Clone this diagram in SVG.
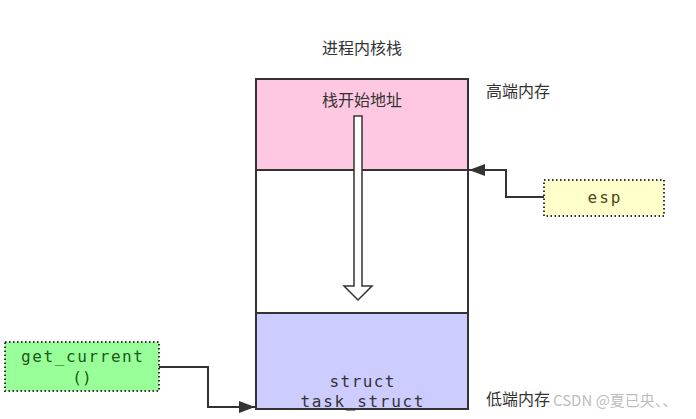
<svg xmlns="http://www.w3.org/2000/svg" width="696" height="419" viewBox="0 0 696 419">
<defs>
<style>
.cjk{font-family:"Noto Sans CJK SC","Noto Sans",sans-serif;font-size:16px;fill:#333}
.mono{font-family:"DejaVu Sans Mono","Liberation Mono",monospace;font-size:16px}
.sec{stroke:#333;stroke-width:2}
.conn{fill:none;stroke:#333;stroke-width:2}
.note{stroke:#333;stroke-width:2;stroke-dasharray:1.5 2.5}
</style>
<marker id="ah2" viewBox="0 0 16 12" refX="16" refY="6" markerWidth="16" markerHeight="12" markerUnits="userSpaceOnUse" orient="auto"><path d="M0,0 L16,6 L0,12 z" fill="#333"/></marker>
</defs>
<rect width="696" height="419" fill="#fff"/>
<text class="cjk" x="362" y="54" text-anchor="middle">进程内核栈</text>
<g id="stack">
<rect class="sec" x="256" y="79" width="212" height="91" fill="#ffc8e2"/>
<rect class="sec" x="256" y="170" width="212" height="143" fill="#fff"/>
<rect class="sec" x="256" y="313" width="212" height="96" fill="#ccccff"/>
<text class="cjk" x="362" y="106" text-anchor="middle">栈开始地址</text>
<text class="mono" x="362" y="387" text-anchor="middle" fill="#333" textLength="65" lengthAdjust="spacing">struct</text>
<text class="mono" x="362" y="407" text-anchor="middle" fill="#333" textLength="123" lengthAdjust="spacing">task_struct</text>
<path d="M354,116 H362 V286 H372 L358,300 L344,286 H354 Z" fill="#fff" stroke="#333" stroke-width="1.5"/>
</g>
<text class="cjk" x="486" y="97">高端内存</text>
<text class="cjk" x="486" y="405">低端内存</text>
<g id="esp">
<rect class="note" x="544" y="180" width="120" height="36" fill="#ffffcc"/>
<text class="mono" x="604" y="203" text-anchor="middle" fill="#4a4a1a" textLength="33" lengthAdjust="spacing">esp</text>
</g>
<g id="get_current">
<rect class="note" x="5" y="342" width="154" height="49" fill="#99ff99"/>
<text class="mono" x="82" y="362" text-anchor="middle" fill="#1a5a1a" textLength="122" lengthAdjust="spacing">get_current</text>
<text class="mono" x="82" y="383" text-anchor="middle" fill="#1a5a1a">()</text>
</g>
<g id="connectors">
<path class="conn" d="M544,197 H506 V170 H469" marker-end="url(#ah2)"/>
<path class="conn" d="M159,367 H208 V407 H255" marker-end="url(#ah2)"/>
</g>
<text x="553" y="406" font-family="Noto Sans CJK SC,Noto Sans,sans-serif" font-size="15" fill="#aaa" fill-opacity="0.8">CSDN @夏已央、、</text>
</svg>
